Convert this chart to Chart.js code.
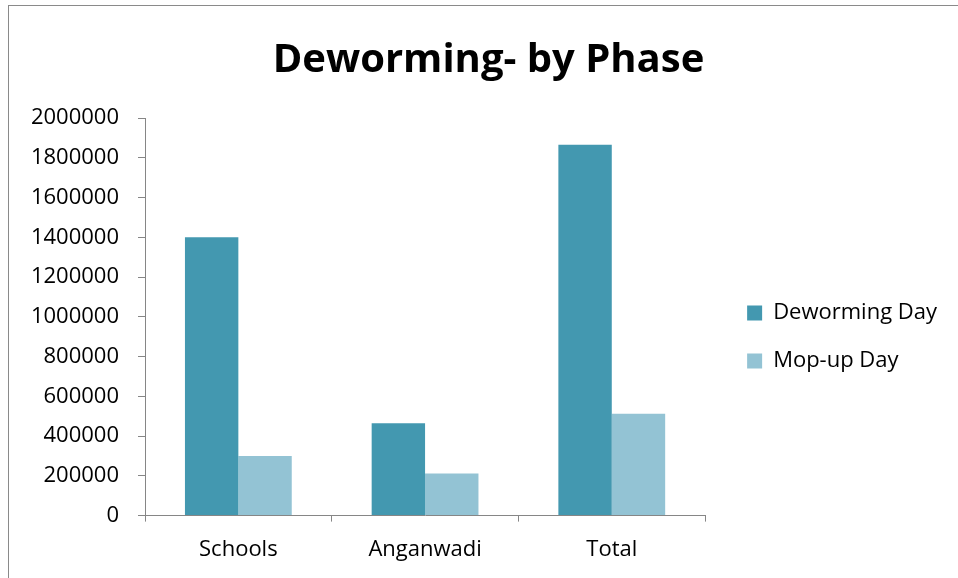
<!DOCTYPE html>
<html lang="en">
<head>
  <meta charset="UTF-8">
  <title>Deworming- by Phase</title>
  <script src="https://cdn.jsdelivr.net/npm/chart.js"></script>
  <style>
   body  { margin: 0; background: #fff; }
   #wrap { position: relative; width: 958px; height: 578px; }
   #frame { position: absolute; left: 8px; top: 5px; right: 0; bottom: 0; border-left: 1px solid #8a8a8a; border-top: 1px solid #8a8a8a; pointer-events: none; }
  </style>
</head>
<body>
  <div id="wrap">
    <canvas id="myChart" width="958" height="578"></canvas>
    <div id="frame"></div>
  </div>
  <script>
    // values
    const categories   = ['Schools', 'Anganwadi', 'Total'];
    const dewormingDay = [1400000, 465000, 1865000];
    const mopUpDay     = [300000, 212000, 512000];
    const yTicks       = [0, 200000, 400000, 600000, 800000, 1000000, 1200000, 1400000, 1600000, 1800000, 2000000];

    const FONT = "'Open Sans', sans-serif";
    const AXIS = '#868686';

    // nudge legend and title blocks to where the original has them
    const blockShift = {
      id: 'blockShift',
      afterLayout(chart) {
        const lg = chart.legend;
        lg.left += 16; lg.right += 16;
        lg.top += 48;  lg.bottom += 48;
        const tt = chart.titleBlock;
        tt.left += 23; tt.right += 23;
      }
    };

    const ctx = document.getElementById('myChart').getContext('2d');
    new Chart(ctx, {
      type: 'bar',
      data: {
        labels: categories,
        datasets: [
          { label: 'Deworming Day', data: dewormingDay, backgroundColor: 'rgb(67,152,176)' },
          { label: 'Mop-up Day',    data: mopUpDay,     backgroundColor: 'rgb(147,195,212)' }
        ]
      },
      options: {
        responsive: false,
        animation: false,
        categoryPercentage: 0.572,
        barPercentage: 1.0,
        layout: { padding: { left: 0, right: 27, top: 0, bottom: 0 } },
        scales: {
          x: {
            grid: { drawOnChartArea: false, drawTicks: true, tickLength: 6, color: AXIS },
            border: { color: AXIS, width: 1 },
            ticks: { color: '#000', padding: 15, font: { family: FONT, size: 22 } }
          },
          y: {
            min: 0, max: 2000000,
            afterBuildTicks(scale) { scale.ticks = yTicks.map(v => ({ value: v })); },
            afterFit(scale) { scale.width = 145; },
            grid: { drawOnChartArea: false, drawTicks: true, tickLength: 7, color: AXIS },
            border: { color: AXIS, width: 1 },
            ticks: { color: '#000', padding: 19, font: { family: FONT, size: 22 }, callback: v => String(v) }
          }
        },
        plugins: {
          title: {
            display: true, text: 'Deworming- by Phase', color: '#000',
            font: { family: FONT, size: 40, weight: 'bold' },
            padding: { top: 37, bottom: 33 }
          },
          legend: {
            display: true, position: 'right',
            labels: { color: '#000', boxWidth: 15, boxHeight: 15, padding: 26, font: { family: FONT, size: 22 } }
          },
          tooltip: { enabled: false }
        }
      },
      plugins: [blockShift]
    });
  </script>
</body>
</html>
